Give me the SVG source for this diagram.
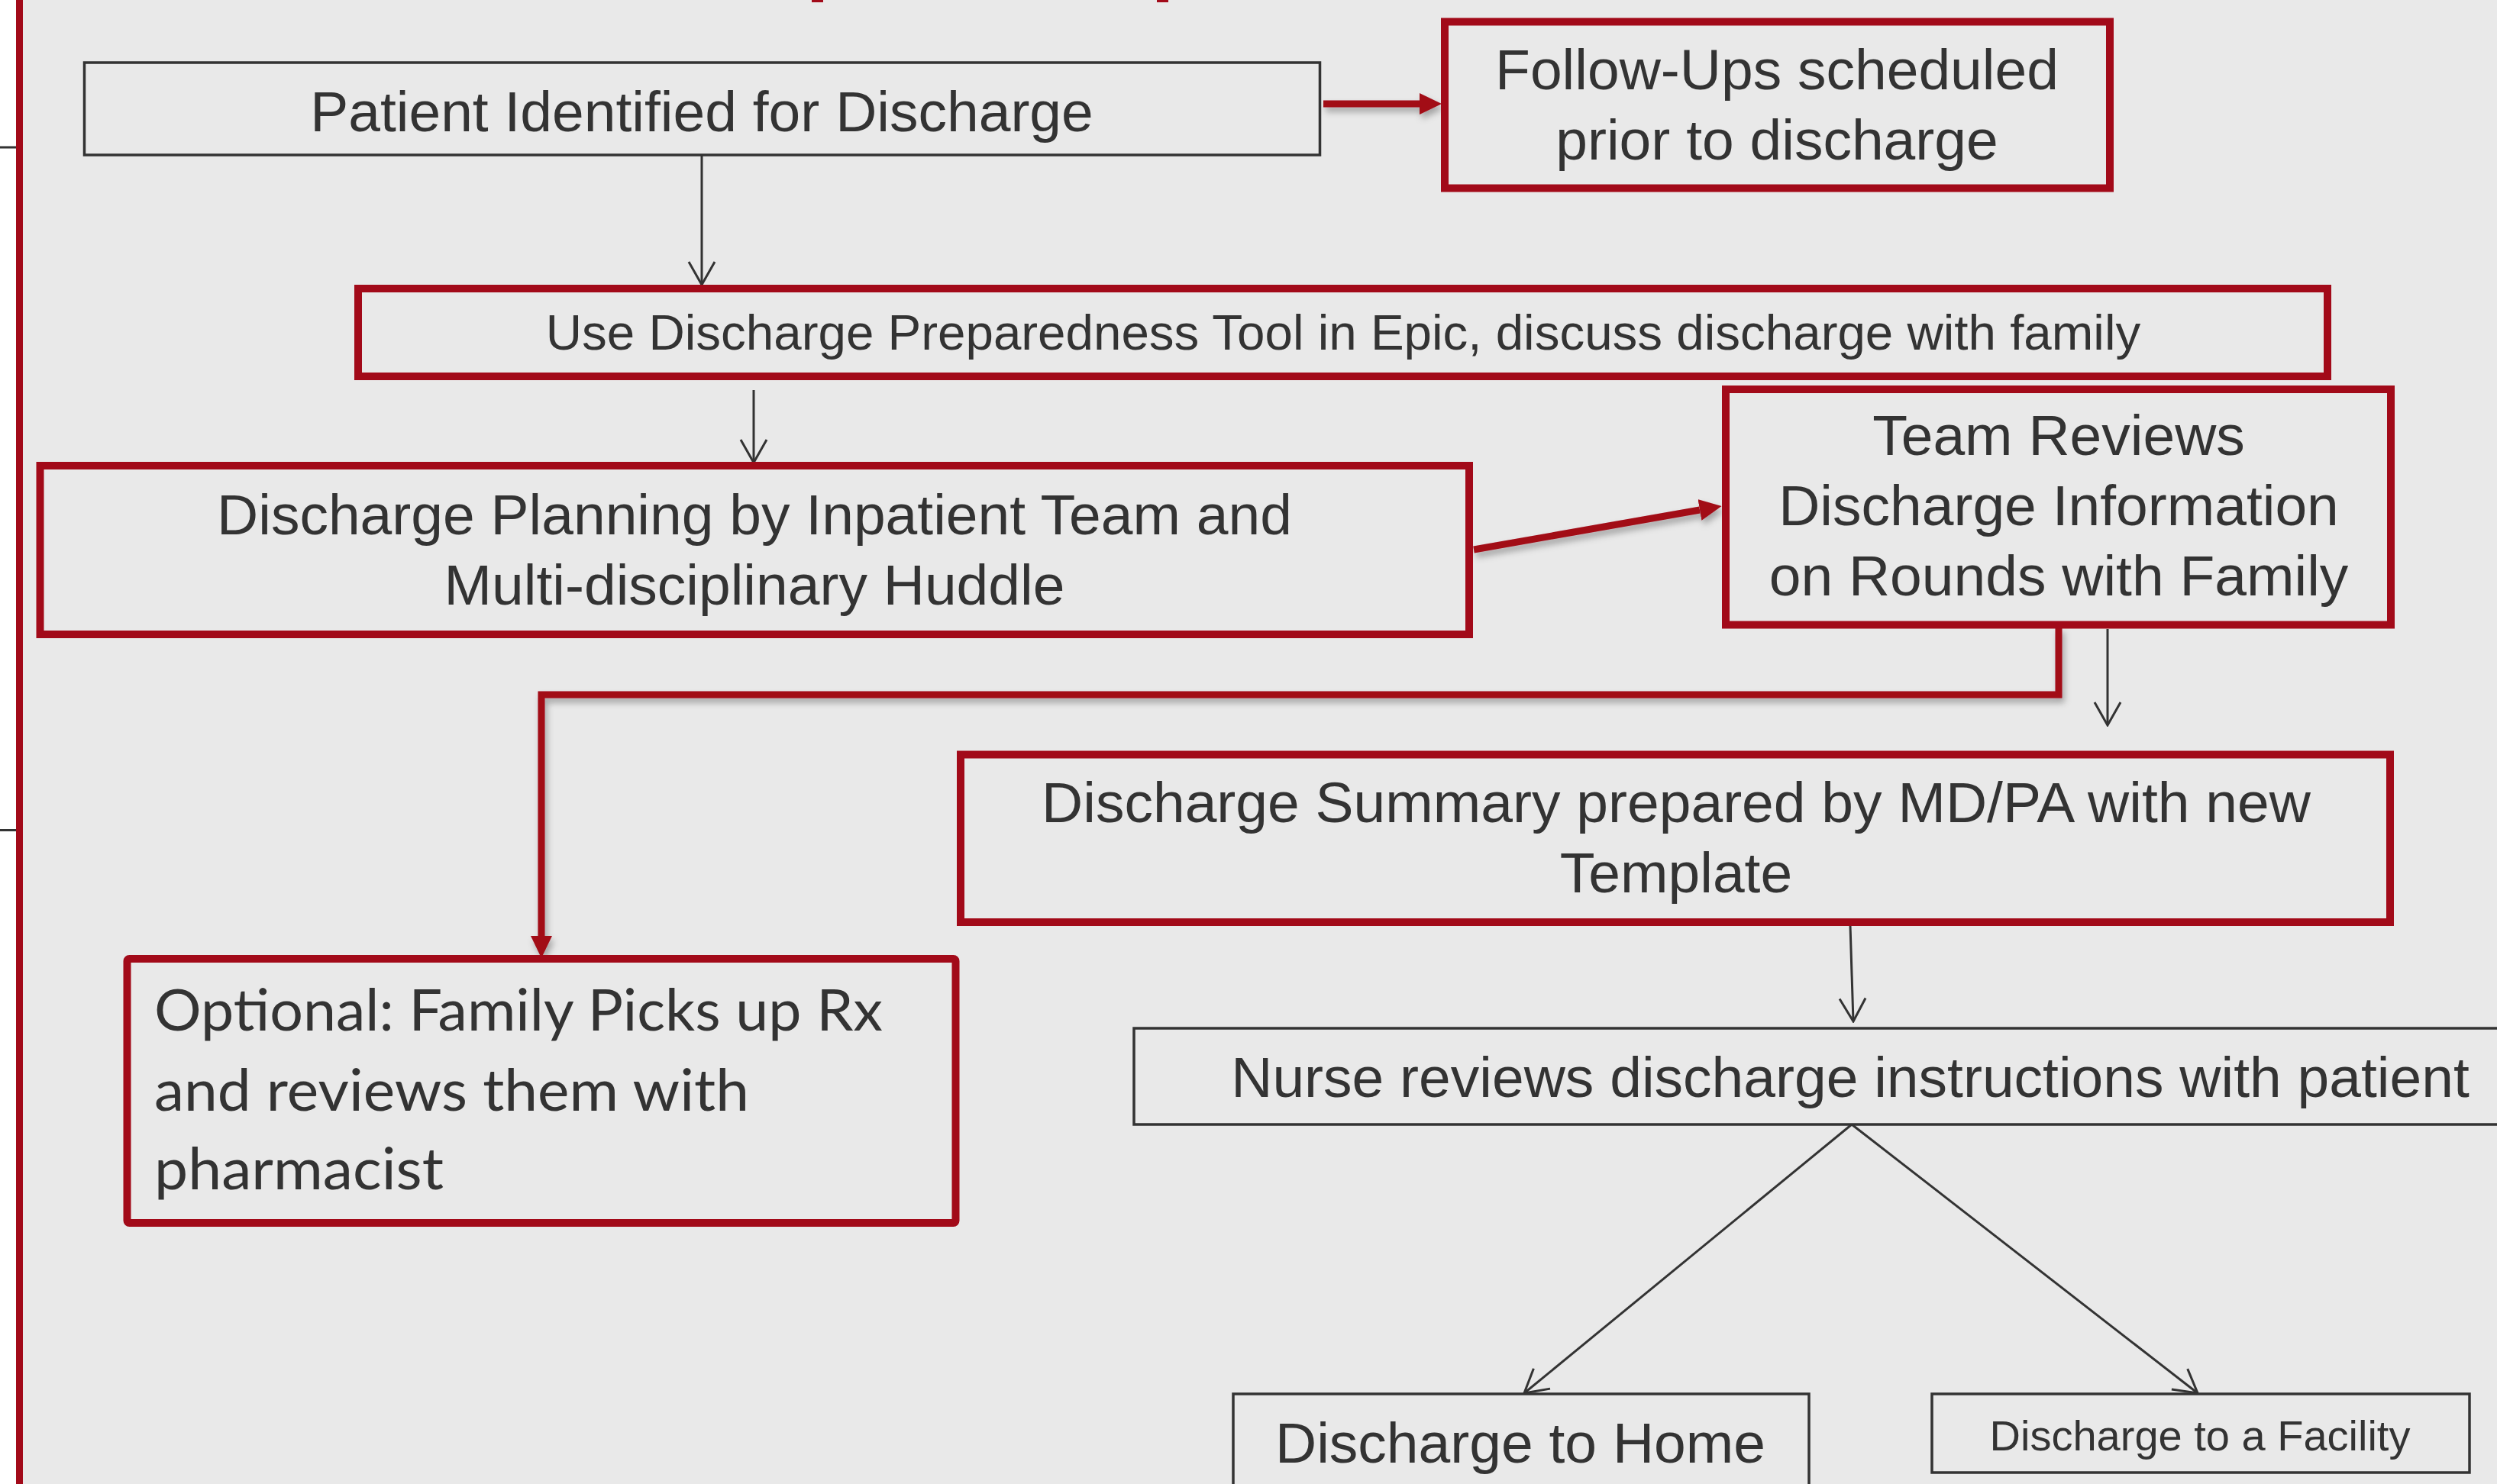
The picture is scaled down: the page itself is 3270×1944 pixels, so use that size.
<svg xmlns="http://www.w3.org/2000/svg" width="3270" height="1944" viewBox="0 0 3270 1944">
<style>
.bg{fill:#e9e9e9}
.rbox{fill:#e9e9e9;stroke:#a20a19;stroke-width:10}
.kbox{fill:#e9e9e9;stroke:#333;stroke-width:3.5}
.t{font-family:"Liberation Sans",Arial,sans-serif;fill:#333;text-anchor:middle}
.c{font-family:Lato,"Open Sans",sans-serif;fill:#333}
.kline{fill:none;stroke:#333;stroke-width:3}
.rline{fill:none;stroke:#a20a19;stroke-width:9}
</style>
<defs>
<marker id="open" viewBox="0 0 34 38" refX="32" refY="19" markerWidth="34" markerHeight="38" markerUnits="userSpaceOnUse" orient="auto">
<path d="M2,2 L32,19 L2,36" fill="none" stroke="#333" stroke-width="3"/>
</marker>
<marker id="red" viewBox="0 0 29 28" refX="0" refY="14" markerWidth="29" markerHeight="28" markerUnits="userSpaceOnUse" orient="auto">
<path d="M0,0 L29,14 L0,28 Z" fill="#a20a19"/>
</marker>
<filter id="sh" x="-10%" y="-10%" width="120%" height="130%">
<feDropShadow dx="3" dy="6" stdDeviation="4" flood-color="#000" flood-opacity="0.3"/>
</filter>
</defs>
<rect class="bg" x="0" y="0" width="3270" height="1944"/>
<rect x="0" y="0" width="21" height="1944" fill="#ffffff"/>
<rect x="0" y="191.5" width="21" height="3" fill="#333"/>
<rect x="0" y="1086" width="21" height="3" fill="#333"/>
<rect x="21" y="0" width="9" height="1944" fill="#a20a19"/>
<rect x="1063" y="0" width="15" height="3" fill="#a20a19"/>
<rect x="1515" y="0" width="15" height="3" fill="#a20a19"/>

<g id="connectors">
<line class="kline" x1="919" y1="203" x2="919" y2="373" marker-end="url(#open)"/>
<line class="kline" x1="987" y1="511" x2="987" y2="606" marker-end="url(#open)"/>
<line class="kline" x1="2760" y1="824" x2="2760" y2="950" marker-end="url(#open)"/>
<line class="kline" x1="2423" y1="1212" x2="2427" y2="1338" marker-end="url(#open)"/>
<line class="kline" x1="2425" y1="1473" x2="1996" y2="1825" marker-end="url(#open)"/>
<line class="kline" x1="2425" y1="1473" x2="2878" y2="1825" marker-end="url(#open)"/>
<g filter="url(#sh)">
<line class="rline" x1="1733" y1="136" x2="1859" y2="136" marker-end="url(#red)"/>
<line class="rline" x1="1930" y1="720" x2="2226" y2="668" marker-end="url(#red)"/>
<path class="rline" d="M2696,822 V910 H709 V1226" marker-end="url(#red)"/>
</g>
</g>

<g id="n1">
<rect class="kbox" x="110.5" y="82" width="1618" height="121"/>
<text class="t" x="919" y="172" font-size="75">Patient Identified for Discharge</text>
</g>
<g id="n2">
<rect class="rbox" x="1892" y="28.5" width="871" height="218"/>
<text class="t" x="2327" y="117" font-size="75">Follow-Ups scheduled</text>
<text class="t" x="2327" y="209" font-size="75">prior to discharge</text>
</g>
<g id="n3">
<rect class="rbox" x="469" y="378" width="2579" height="115"/>
<text class="t" x="1759" y="458" font-size="65.5">Use Discharge Preparedness Tool in Epic, discuss discharge with family</text>
</g>
<g id="n4">
<rect class="rbox" x="52.5" y="610" width="1871.5" height="221"/>
<text class="t" x="988" y="700" font-size="75">Discharge Planning by Inpatient Team and</text>
<text class="t" x="988" y="792" font-size="75">Multi-disciplinary Huddle</text>
</g>
<g id="n5">
<rect class="rbox" x="2260" y="510" width="871" height="308.5"/>
<text class="t" x="2696" y="596" font-size="75">Team Reviews</text>
<text class="t" x="2696" y="688" font-size="75">Discharge Information</text>
<text class="t" x="2696" y="780" font-size="75">on Rounds with Family</text>
</g>
<g id="n6">
<rect class="rbox" x="166.5" y="1256" width="1085" height="346" rx="3"/>
<text class="c" x="202" y="1350" font-size="76" textLength="954" lengthAdjust="spacingAndGlyphs">Optional: Family Picks up Rx</text>
<text class="c" x="202" y="1455" font-size="76" textLength="779" lengthAdjust="spacingAndGlyphs">and reviews them with</text>
<text class="c" x="202" y="1558" font-size="76" textLength="379" lengthAdjust="spacingAndGlyphs">pharmacist</text>
</g>
<g id="n7">
<rect class="rbox" x="1258" y="988.5" width="1872" height="219.5"/>
<text class="t" x="2195" y="1077" font-size="75">Discharge Summary prepared by MD/PA with new</text>
<text class="t" x="2195" y="1169" font-size="75">Template</text>
</g>
<g id="n8">
<rect class="kbox" x="1485" y="1347" width="1820" height="126"/>
<text class="t" x="2423" y="1437" font-size="75">Nurse reviews discharge instructions with patient</text>
</g>
<g id="n9">
<rect class="kbox" x="1615" y="1826" width="754" height="200"/>
<text class="t" x="1991" y="1916" font-size="75">Discharge to Home</text>
</g>
<g id="n10">
<rect class="kbox" x="2530" y="1826" width="704" height="103"/>
<text class="t" x="2881" y="1900" font-size="56">Discharge to a Facility</text>
</g>
</svg>
